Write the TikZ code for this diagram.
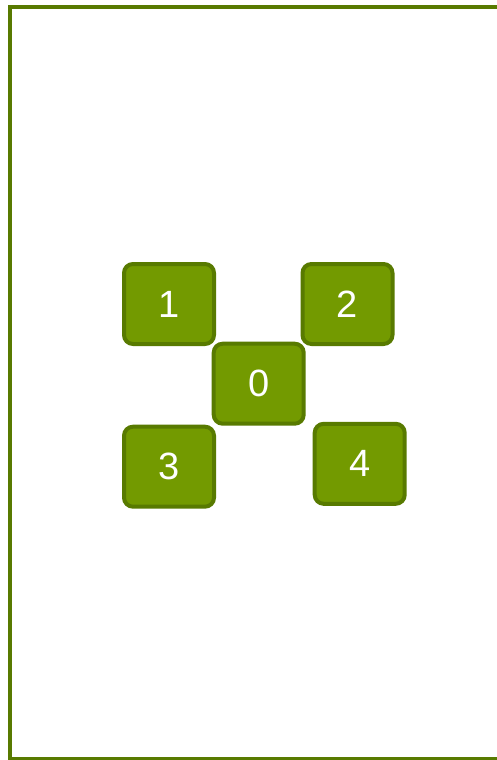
\documentclass[tikz,border=0pt]{standalone}
\usepackage{fontspec}
\setmainfont{Liberation Sans}
\definecolor{boxfill}{HTML}{739A00}
\definecolor{boxline}{HTML}{587A00}
\begin{document}
\begin{tikzpicture}[x=1pt,y=1pt,
  tile/.style={draw=boxline,fill=boxfill,line width=4pt,rounded corners=9pt,
    minimum width=90pt,minimum height=80pt,inner sep=0pt,text=white,
    font=\fontsize{38}{42}\selectfont}]
\useasboundingbox (0,0) rectangle (496,-760);
\draw[boxline,line width=4pt] (502,-7) -- (10,-7) -- (10,-758.5) -- (502,-758.5);
\node[tile] (n1) at (169,-304) {\raisebox{-2pt}{1}};
\node[tile] (n2) at (347.5,-304) {\raisebox{-2pt}{2}};
\node[tile] (n0) at (258.7,-383.7) {\raisebox{-2pt}{0}};
\node[tile] (n3) at (169,-466.7) {\raisebox{-2pt}{3}};
\node[tile] (n4) at (359.7,-463.8) {\raisebox{-2pt}{4}};
\end{tikzpicture}
\end{document}
